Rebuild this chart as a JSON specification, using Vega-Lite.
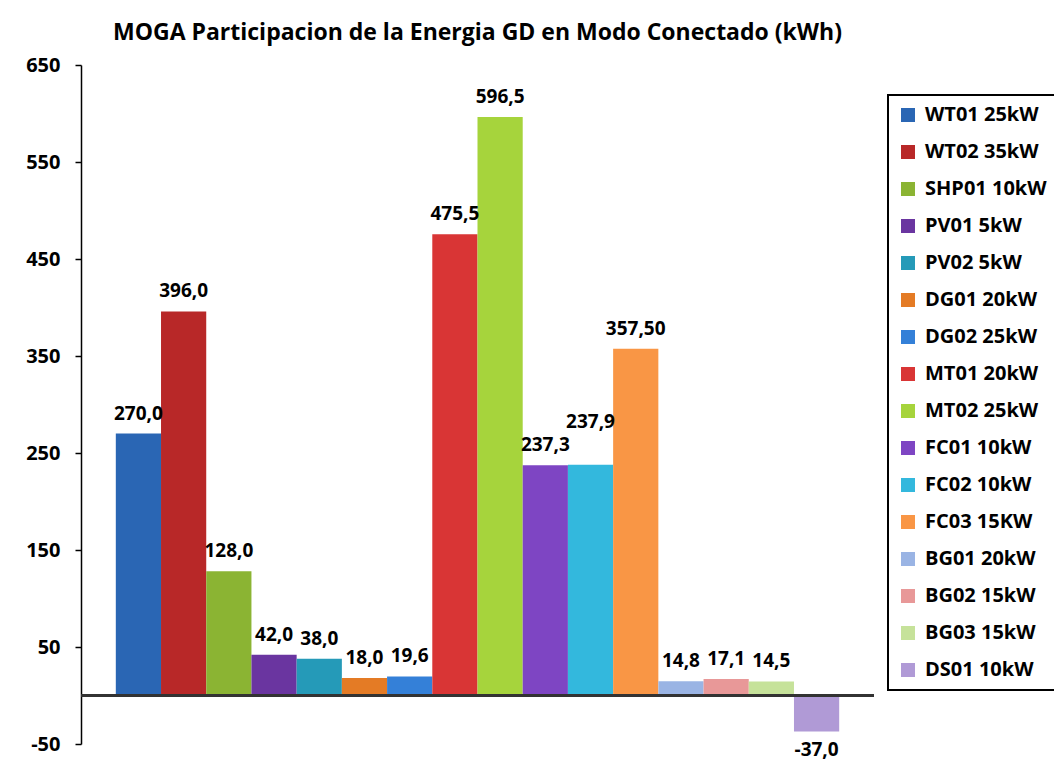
{
  "$schema": "https://vega.github.io/schema/vega-lite/v6.json",
  "autosize": "none",
  "width": 793,
  "height": 679,
  "padding": {"left": 81, "top": 65, "right": 180, "bottom": 20},
  "background": "white",
  "title": {
    "text": "MOGA Participacion de la Energia GD en Modo Conectado (kWh)",
    "font": "Open Sans",
    "fontSize": 23,
    "fontWeight": "bold",
    "color": "#000000",
    "anchor": "middle",
    "baseline": "alphabetic",
    "offset": -8
  },
  "data": {
    "values": [
      {"name": "WT01 25kW", "value": 270.0, "label": "270,0"},
      {"name": "WT02 35kW", "value": 396.0, "label": "396,0"},
      {"name": "SHP01 10kW", "value": 128.0, "label": "128,0"},
      {"name": "PV01 5kW", "value": 42.0, "label": "42,0"},
      {"name": "PV02 5kW", "value": 38.0, "label": "38,0"},
      {"name": "DG01 20kW", "value": 18.0, "label": "18,0"},
      {"name": "DG02 25kW", "value": 19.6, "label": "19,6"},
      {"name": "MT01 20kW", "value": 475.5, "label": "475,5"},
      {"name": "MT02 25kW", "value": 596.5, "label": "596,5"},
      {"name": "FC01 10kW", "value": 237.3, "label": "237,3"},
      {"name": "FC02 10kW", "value": 237.9, "label": "237,9"},
      {"name": "FC03 15KW", "value": 357.5, "label": "357,50"},
      {"name": "BG01 20kW", "value": 14.8, "label": "14,8"},
      {"name": "BG02 15kW", "value": 17.1, "label": "17,1"},
      {"name": "BG03 15kW", "value": 14.5, "label": "14,5"},
      {"name": "DS01 10kW", "value": -37.0, "label": "-37,0"}
    ]
  },
  "layer": [
    {
      "mark": {"type": "bar"},
      "encoding": {
        "x": {
          "field": "name",
          "type": "nominal",
          "sort": null,
          "axis": null,
          "scale": {"paddingInner": 0, "paddingOuter": 0.77}
        },
        "y": {
          "field": "value",
          "type": "quantitative",
          "scale": {"domain": [-50, 650], "nice": false, "zero": false},
          "axis": {
            "title": null,
            "values": [-50, 50, 150, 250, 350, 450, 550, 650],
            "labelExpr": "datum.value < 0 ? '-' + abs(datum.value) : datum.label",
            "grid": false,
            "domainColor": "#000000",
            "domainWidth": 1.5,
            "tickColor": "#000000",
            "tickWidth": 1.5,
            "tickSize": 6,
            "labelPadding": 15,
            "labelFont": "Open Sans",
            "labelFontSize": 20,
            "labelFontWeight": "bold",
            "labelColor": "#000000"
          }
        },
        "color": {
          "field": "name",
          "type": "nominal",
          "sort": null,
          "scale": {
            "domain": ["WT01 25kW", "WT02 35kW", "SHP01 10kW", "PV01 5kW", "PV02 5kW", "DG01 20kW", "DG02 25kW", "MT01 20kW", "MT02 25kW", "FC01 10kW", "FC02 10kW", "FC03 15KW", "BG01 20kW", "BG02 15kW", "BG03 15kW", "DS01 10kW"],
            "range": ["#2a66b4", "#b82828", "#8bb433", "#6a35a0", "#259ab8", "#e47b25", "#3480d8", "#d93535", "#a6d43c", "#7e45c3", "#33b8dd", "#f99645", "#9ab4e4", "#e89898", "#c6e29a", "#b09ad6"]
          },
          "legend": {
            "title": null,
            "orient": "none",
            "legendX": 807,
            "legendY": 30,
            "padding": 10,
            "strokeColor": "#000000",
            "fillColor": "#ffffff",
            "symbolType": "square",
            "symbolSize": 196,
            "symbolStrokeWidth": 0,
            "labelOffset": 7,
            "labelFont": "Open Sans",
            "labelFontSize": 20,
            "labelFontWeight": "bold",
            "labelColor": "#000000",
            "labelLimit": 250,
            "rowPadding": 17
          }
        }
      }
    },
    {
      "transform": [{"filter": "datum.value >= 0 && datum.name != 'FC02 10kW'"}],
      "mark": {"type": "text", "baseline": "alphabetic", "dy": -14, "font": "Open Sans", "fontSize": 19, "fontWeight": "bold", "color": "#000000"},
      "encoding": {
        "x": {"field": "name", "type": "nominal", "sort": null},
        "y": {"field": "value", "type": "quantitative"},
        "text": {"field": "label"}
      }
    },
    {
      "transform": [{"filter": "datum.name == 'FC02 10kW'"}],
      "mark": {"type": "text", "baseline": "alphabetic", "dy": -37, "font": "Open Sans", "fontSize": 19, "fontWeight": "bold", "color": "#000000"},
      "encoding": {
        "x": {"field": "name", "type": "nominal", "sort": null},
        "y": {"field": "value", "type": "quantitative"},
        "text": {"field": "label"}
      }
    },
    {
      "transform": [{"filter": "datum.value < 0"}],
      "mark": {"type": "text", "baseline": "top", "dy": 10, "font": "Open Sans", "fontSize": 19, "fontWeight": "bold", "color": "#000000"},
      "encoding": {
        "x": {"field": "name", "type": "nominal", "sort": null},
        "y": {"field": "value", "type": "quantitative"},
        "text": {"field": "label"}
      }
    },
    {
      "mark": {"type": "rule", "color": "#333333", "strokeWidth": 2},
      "encoding": {"y": {"datum": 0}}
    }
  ],
  "config": {"view": {"stroke": null}, "legend": {"strokeWidth": 2}}
}
